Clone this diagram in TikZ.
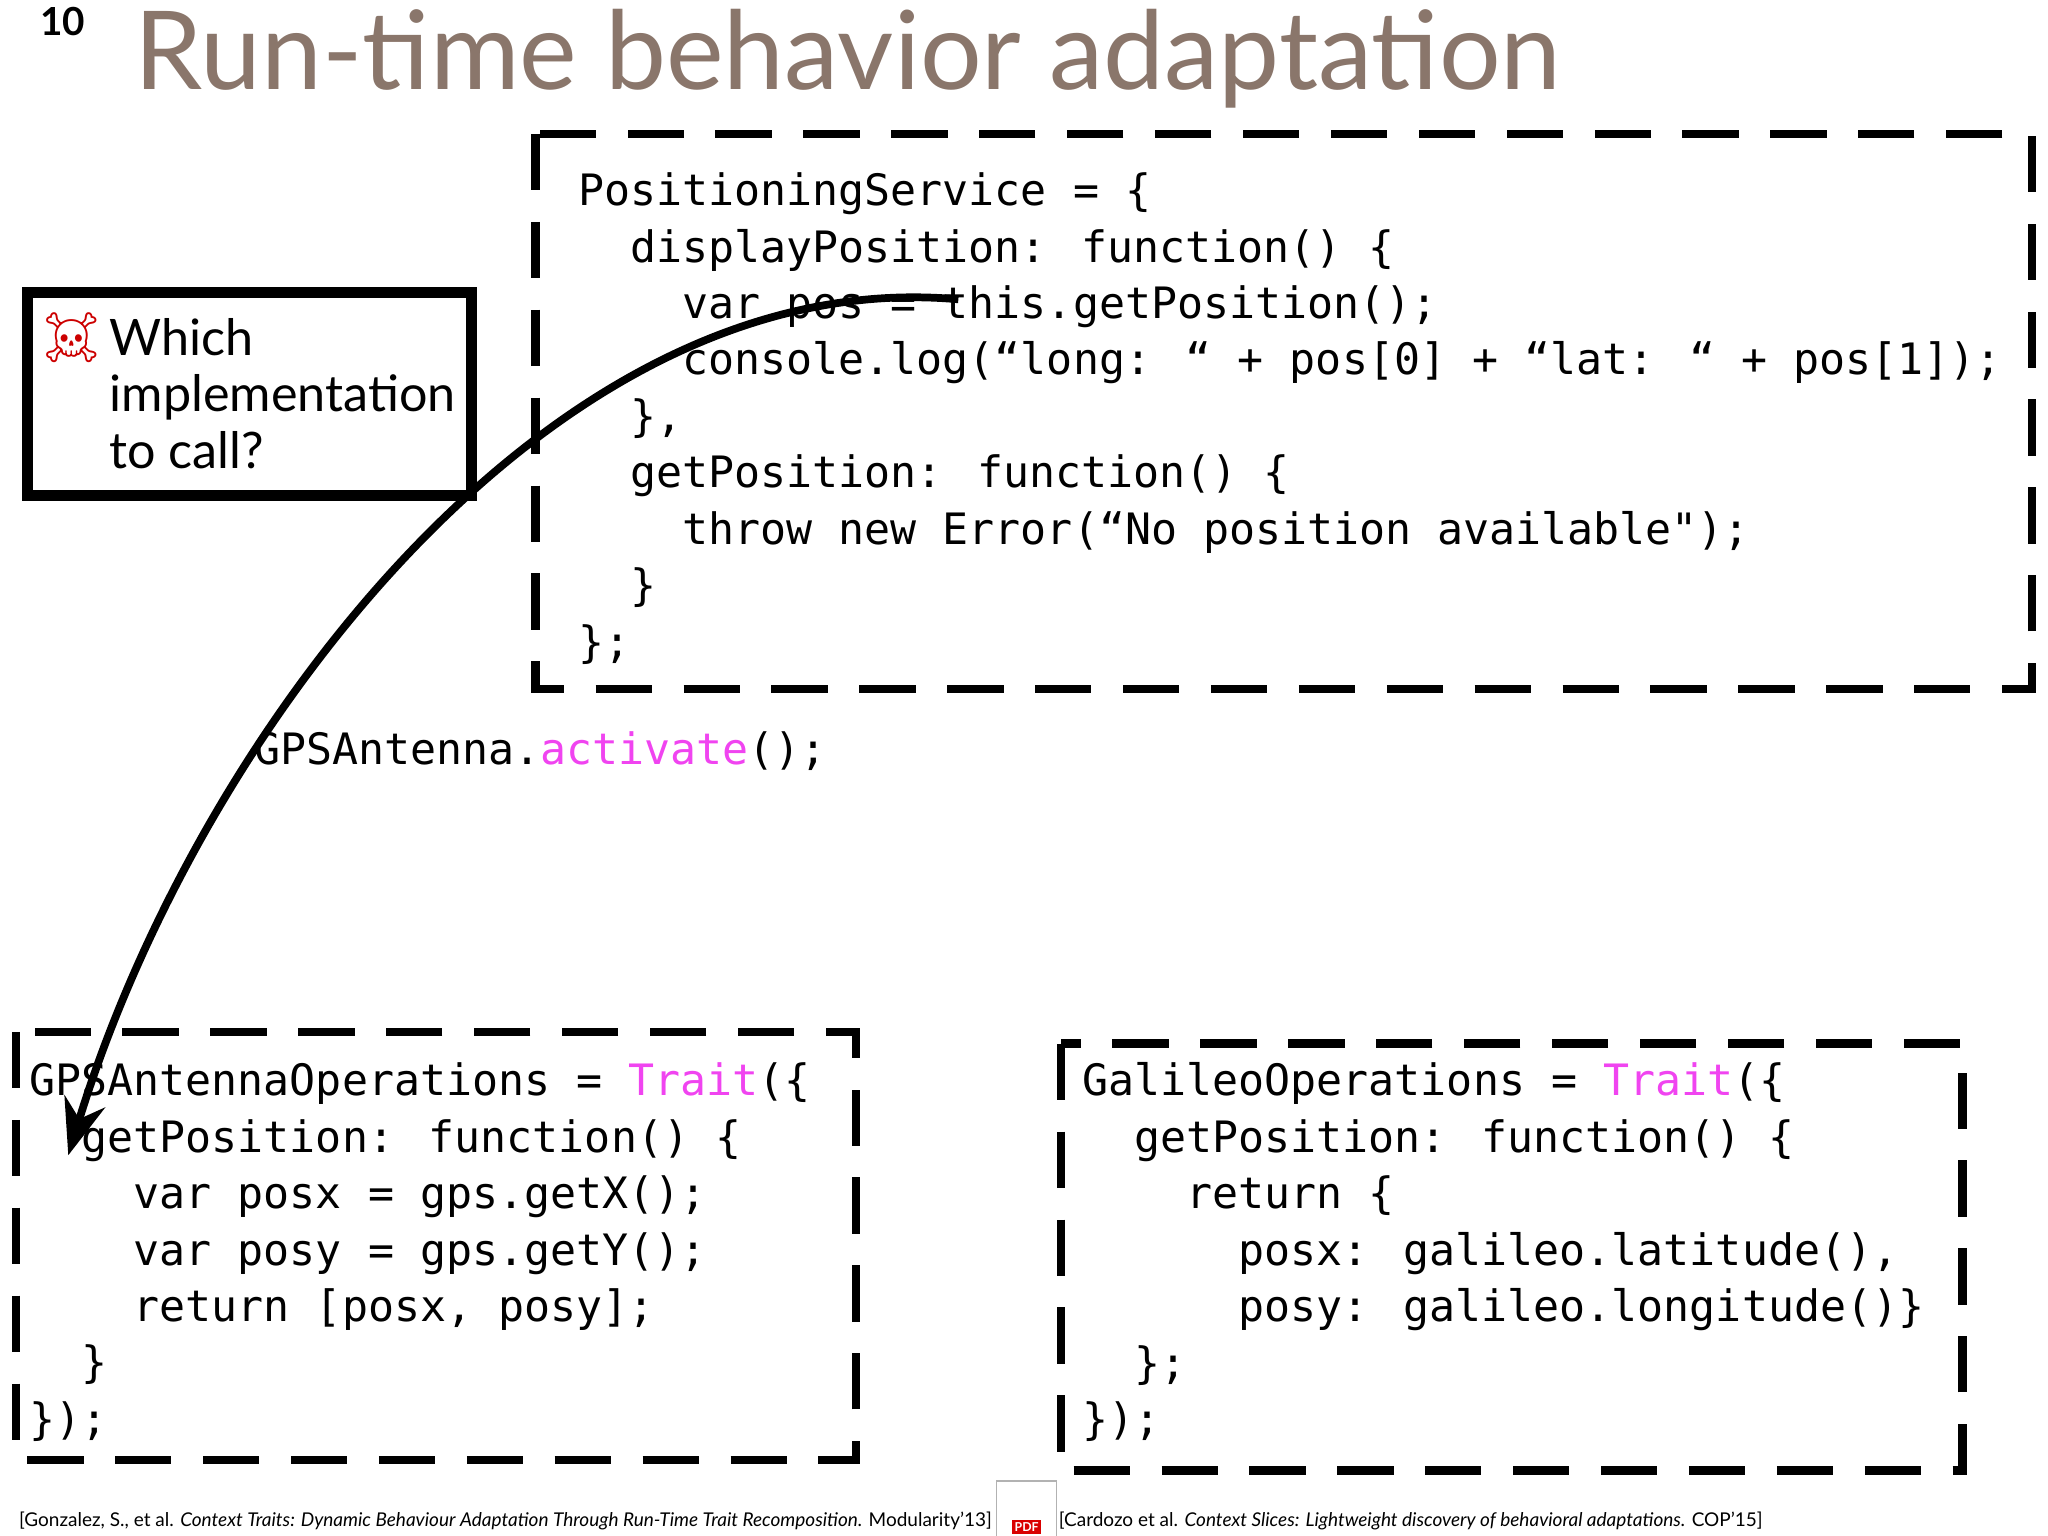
\documentclass[tikz,border=0pt]{standalone}
\usepackage{fontspec}
\setmainfont{Lato}
\newfontfamily\mono{DejaVu Sans Mono}
\newfontfamily\emo{Noto Emoji}
\usetikzlibrary{arrows.meta}
\definecolor{titlec}{HTML}{8A766B}
\definecolor{mag}{HTML}{F044F0}
\newcommand{\ind}[1]{\hspace*{#1\dimexpr0.602em\relax}}
\newcommand{\kw}[1]{\textcolor{mag}{#1}}
\begin{document}
\begin{tikzpicture}[x=0.013128cm,y=-0.013128cm,
  dbox/.style={draw,line width=2.4pt,dash pattern=on 16pt off 9pt},
  code/.style={anchor=north west,align=left,inner sep=0pt,font=\mono\fontsize{12.3}{16.06}\selectfont},
  cite/.style={anchor=base west,inner sep=0pt,font=\fontsize{5.4}{7}\selectfont}]
\useasboundingbox (0,0) rectangle (1560,1170);
\node[anchor=base west,inner sep=0pt,font=\bfseries\fontsize{11}{12}\selectfont] (pg) at (30,27) {10};
\node[anchor=base west,inner sep=0pt,text=titlec,font=\fontsize{31}{34}\selectfont] (title) at (102,68) {Run-time behavior adaptation};
% boxes
\draw[dbox] (408,102) rectangle (1548,525);
\draw[dbox] (12,786) rectangle (652,1112);
\draw[dbox] (808,795) rectangle (1495,1120);
\draw[line width=2.6pt] (20,222) rectangle (360,378);
\draw[line width=0.8pt] (24,226) rectangle (356,374);
\node[anchor=north west,inner sep=0pt,align=left,font=\fontsize{14.3}{16.06}\selectfont] (qt) at (83,242) {Which\\implementation\\to call?};
\node[inner sep=0pt,text=red!80!black,font=\emo\fontsize{14}{16}\selectfont] (skull) at (55,257) {☠};
% code
\node[code] (top) at (440,131) {PositioningService = \{\\
\ind{2}displayPosition: function() \{\\
\ind{4}var pos = this.getPosition();\\
\ind{4}console.log(“long: “ + pos[0] + “lat: “ + pos[1]);\\
\ind{2}\},\\
\ind{2}getPosition: function() \{\\
\ind{4}throw new Error(“No position available");\\
\ind{2}\}\\
\};};
\node[code,anchor=base west] (act) at (193,582) {GPSAntenna.\kw{activate}();};
\node[code] (gps) at (22,809) {GPSAntennaOperations = \kw{Trait}(\{\\
\ind{2}getPosition: function() \{\\
\ind{4}var posx = gps.getX();\\
\ind{4}var posy = gps.getY();\\
\ind{4}return [posx, posy];\\
\ind{2}\}\\
\});};
\node[code] (gal) at (824,809) {GalileoOperations = \kw{Trait}(\{\\
\ind{2}getPosition: function() \{\\
\ind{4}return \{\\
\ind{6}posx: galileo.latitude(),\\
\ind{6}posy: galileo.longitude()\}\\
\ind{2}\};\\
\});};
% arrow
\coordinate (as) at (730,228);
\coordinate (ae) at (52,880);
\draw[line width=2.2pt,-{Stealth[length=16pt,width=12pt]}] (as) .. controls (420,200) and (150,560) .. (ae);
% citations
\node[cite] (c1) at (14,1163) {[Gonzalez, S., et al. \textit{Context Traits: Dynamic Behaviour Adaptation Through Run-Time Trait Recomposition.} Modularity’13]};
\node[draw=gray!60,fill=white,minimum width=17pt,minimum height=20pt,inner sep=0pt] (pdf) at (782,1155) {};
\node[fill=red!85!black,text=white,inner sep=0.8pt,font=\bfseries\fontsize{3.5}{4}\selectfont] (pdft) at (782,1163) {PDF};
\node[cite] (c2) at (806,1163) {[Cardozo et al. \textit{Context Slices: Lightweight discovery of behavioral adaptations.} COP’15]};
\end{tikzpicture}
\end{document}
